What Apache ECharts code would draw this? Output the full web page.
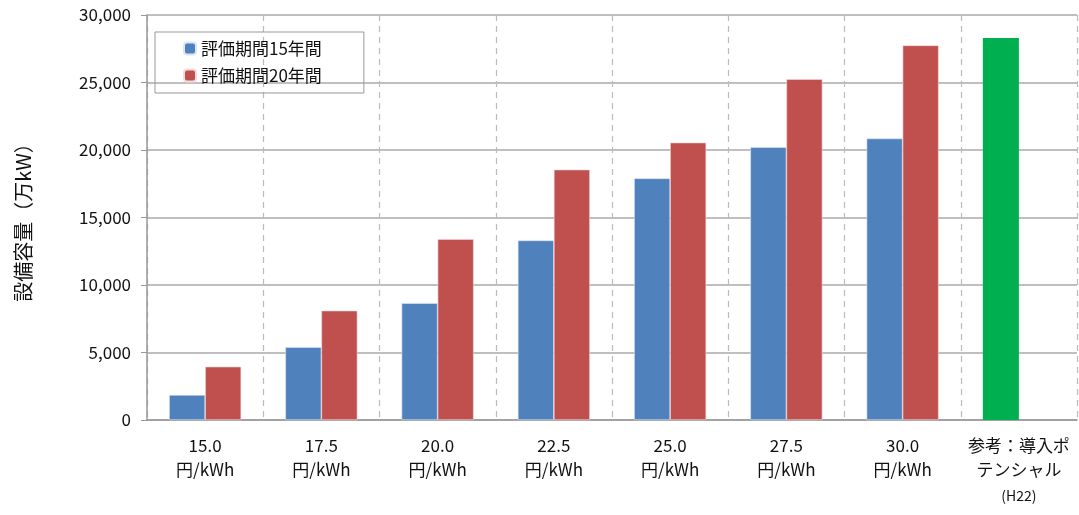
<!DOCTYPE html>
<html>
<head>
<meta charset="utf-8">
<script src="https://cdn.jsdelivr.net/npm/echarts@6/dist/echarts.min.js"></script>
<style>
  html, body { margin: 0; padding: 0; background: #fff; }
  #chart { width: 1079px; height: 515px; }
</style>
</head>
<body>
<div id="chart"></div>
<script>
const categories = [
  "15.0\n円/kWh", "17.5\n円/kWh", "20.0\n円/kWh", "22.5\n円/kWh",
  "25.0\n円/kWh", "27.5\n円/kWh", "30.0\n円/kWh", "参考：導入ポ\nテンシャル\n{s|(H22)}"
];
const period15 = [1850, 5400, 8650, 13300, 17900, 20200, 20850];
const period20 = [3950, 8100, 13400, 18550, 20550, 25250, 27750];
const potential = 28300;
const yTicks = { min: 0, max: 30000, interval: 5000 };

const chart = echarts.init(document.getElementById("chart"));
const font = "'Noto Sans CJK JP', 'Noto Sans', sans-serif";

const options = {
  textStyle: { fontFamily: font },
  grid: { left: 147, right: 2, top: 15, bottom: 95 },
  legend: {
    orient: "vertical",
    left: 155,
    top: 32,
    padding: [8, 42, 9, 28],
    itemGap: 10,
    itemWidth: 12,
    itemHeight: 12,
    borderColor: "#999",
    borderWidth: 1,
    textStyle: { fontSize: 17, color: "#111", fontFamily: font },
    data: ["評価期間15年間", "評価期間20年間"],
  },
  xAxis: {
    type: "category",
    data: categories,
    axisLine: { lineStyle: { color: "#999", width: 1.5 } },
    axisTick: { show: false },
    axisLabel: {
      interval: 0,
      color: "#111",
      fontSize: 17,
      lineHeight: 24,
      margin: 14,
      fontFamily: font,
      rich: { s: { fontSize: 14, lineHeight: 28, color: "#111" } },
    },
    splitLine: {
      show: true,
      interval: 0,
      lineStyle: { color: "#bbb", type: [6, 5], width: 1.2 },
    },
  },
  yAxis: {
    type: "value",
    min: yTicks.min,
    max: yTicks.max,
    interval: yTicks.interval,
    name: "設備容量（万kW）",
    nameLocation: "middle",
    nameGap: 114,
    nameRotate: 90,
    nameTextStyle: { fontSize: 20, color: "#111", fontFamily: font },
    axisLine: { show: true, lineStyle: { color: "#999", width: 1.5 } },
    axisTick: { show: true, length: 6, lineStyle: { color: "#999" } },
    axisLabel: {
      color: "#111",
      fontSize: 17,
      margin: 16,
      fontFamily: font,
      formatter: (v) => v.toLocaleString("en-US"),
    },
    splitLine: { lineStyle: { color: "#aaa", width: 1.5 } },
  },
  series: [
    {
      name: "評価期間15年間",
      type: "bar",
      barGap: "0%",
      barCategoryGap: "38%",
      itemStyle: { color: "#4f81bd", borderColor: "#dce6f2", borderWidth: 0.6 },
      data: period15.concat([
        { value: potential, itemStyle: { color: "#00b050", borderWidth: 0 } },
      ]),
    },
    {
      name: "評価期間20年間",
      type: "bar",
      itemStyle: { color: "#c0504d", borderColor: "#f2dcdb", borderWidth: 0.6 },
      data: period20.concat([null]),
    },
  ],
};

chart.setOption(options);
</script>
</body>
</html>
